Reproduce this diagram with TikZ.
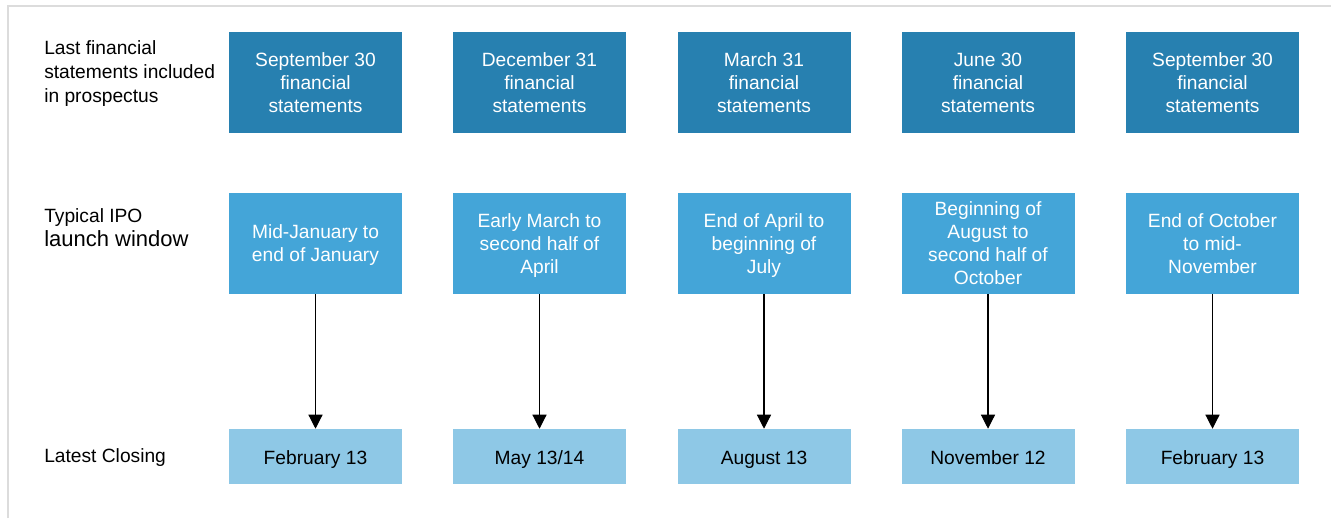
\documentclass[tikz,border=0pt]{standalone}
\usepackage{fontspec}
\setmainfont{Liberation Sans}
\usepackage{tikz}
\usetikzlibrary{arrows.meta}

\definecolor{stmtblue}{RGB}{39,128,176}
\definecolor{launchblue}{RGB}{68,165,216}
\definecolor{closeblue}{RGB}{142,200,230}
\definecolor{framegray}{RGB}{220,220,220}

% struts for the row labels
\newcommand{\topstrut}{\rule{0pt}{13.05pt}}
\newcommand{\botstrut}{\rule[-3.05pt]{0pt}{3.05pt}}

\tikzset{
  cellbox/.style={minimum width=129.75pt, inner sep=0pt, align=center},
  stmtbox/.style={cellbox, fill=stmtblue, text=white, minimum height=75.75pt, text depth=-3pt},
  launchbox/.style={cellbox, fill=launchblue, text=white, minimum height=75.75pt, text depth=-4.8pt},
  closebox/.style={cellbox, fill=closeblue, text=black, minimum height=41.25pt,
    text height=14.55pt, text depth=3.05pt},
  rowlabel/.style={anchor=west, inner sep=0pt, align=left, font=\fontsize{14.4}{18}\selectfont,
    execute at begin node=\topstrut, execute at end node=\botstrut},
  timearrow/.style={-{Triangle[length=10.5pt,width=10.5pt]}, line width=0.9pt}
}

\begin{document}
\begin{tikzpicture}[x=0.75pt, y=-0.75pt, font=\fontsize{14.4}{17.25}\selectfont]
                \useasboundingbox (0,0) rectangle (1331,518);

                % Frame
                \draw[framegray, line width=1.5pt] (8,518) -- (8,6) -- (1331,6);

                % Row labels
                \node[rowlabel] (lblstmt) at (44,74) {Last financial\\statements included\\in prospectus};
                \node[rowlabel] (lbllaunch) at (44,230) {Typical IPO\\{\fontsize{16.5}{25}\selectfont launch window}};
                \node[rowlabel] (lblclose) at (44,456) {Latest Closing};

                % Last financial statements
                \node[stmtbox] (stmtA) at (315.5,82.5) {September 30\\financial\\statements};
                \node[stmtbox] (stmtB) at (539.5,82.5) {December 31\\financial\\statements};
                \node[stmtbox] (stmtC) at (764,82.5) {March 31\\financial\\statements};
                \node[stmtbox] (stmtD) at (988,82.5) {June 30\\financial\\statements};
                \node[stmtbox] (stmtE) at (1212.5,82.5) {September 30\\financial\\statements};

                % Launch windows
                \node[launchbox] (launchA) at (315.5,243.5) {Mid-January to\\end of January};
                \node[launchbox] (launchB) at (539.5,243.5) {Early March to\\second half of\\April};
                \node[launchbox] (launchC) at (764,243.5) {End of April to\\beginning of\\July};
                \node[launchbox] (launchD) at (988,243.5) {Beginning of\\August to\\second half of\\October};
                \node[launchbox] (launchE) at (1212.5,243.5) {End of October\\to mid-\\November};

                % Latest closing dates
                \node[closebox] (closeA) at (315.5,456.5) {February 13};
                \node[closebox] (closeB) at (539.5,456.5) {May 13/14};
                \node[closebox] (closeC) at (764,456.5) {August 13};
                \node[closebox] (closeD) at (988,456.5) {November 12};
                \node[closebox] (closeE) at (1212.5,456.5) {February 13};

                % Arrows
                \draw[timearrow] (launchA) -- (closeA);
                \draw[timearrow] (launchB) -- (closeB);
                \draw[timearrow] (launchC) -- (closeC);
                \draw[timearrow] (launchD) -- (closeD);
                \draw[timearrow] (launchE) -- (closeE);
\end{tikzpicture}
\end{document}
